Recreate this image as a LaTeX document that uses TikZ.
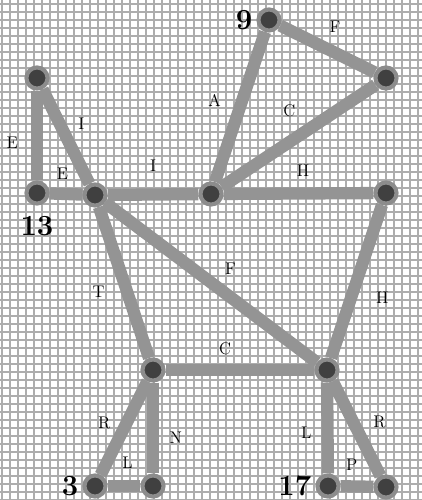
\documentclass[tikz,border=0pt]{standalone}
\usetikzlibrary{backgrounds}
\begin{document}
\begin{tikzpicture}[x=0.03cm, y=-0.03cm]
  \tikzstyle{o} = [circle, fill=black!75, draw=black!45, line width=3.5pt,
  inner sep=0pt, minimum size=18pt];
  \tikzstyle{a} = [line width=10.5pt, color=black!42];
  \tikzstyle{lbl} = [font=\Large, text=black, inner sep=0pt];
  \tikzstyle{num} = [font=\Huge\bfseries];
  \tikzstyle{gridline} = [line width=0.9pt, color=black!32];

  \useasboundingbox (0,0) rectangle (422,500);

  \node[o, label={[num]left:9}] (n9) at (269,20) {};
  \node[o] (tr) at (386,78) {};
  \node[o] (tl) at (37,78) {};
  \node[o, label={[num, label distance=6pt]below:13}] (n13) at (37,193) {};
  \node[o] (a) at (95,195) {};
  \node[o] (b) at (211,194) {};
  \node[o] (c) at (386,193) {};

  \node[o] (d) at (153,370) {};
  \node[o] (e) at (327,370) {};

  \node[o, label={[num]left:3}] (n3) at (95,486) {};
  \node[o] (f) at (153,486) {};
  \node[o, label={[num]left:17}] (n17) at (328,486) {};
  \node[o] (g) at (386,487) {};

  \begin{scope}[on background layer]
    % graph paper
    \foreach \g in {2,10,...,422}
      \draw[gridline] (\g,0) -- (\g,500);
    \foreach \g in {4,12,...,500}
      \draw[gridline] (0,\g) -- (422,\g);

    \draw[a] (n9) -- node[lbl, pos=.58, above=12pt] {F} (tr);
    \draw[a] (n9) -- node[lbl, pos=.455, left=13pt] {A} (b);
    \draw[a] (tr) -- node[lbl, pos=.56, above=16pt] {C} (b);

    \draw[a] (tl) -- node[lbl, pos=.58, left=11pt] {E} (n13);
    \draw[a] (tl) -- node[lbl, pos=.36, right=11pt] {I} (a);
    \draw[a] (n13) -- node[lbl, pos=.39, above=7pt] {E} (a);
    \draw[a] (a) -- node[lbl, pos=.5, above=14pt] {I} (b);
    \draw[a] (b) -- node[lbl, pos=.53, above=9pt] {H} (c);

    \draw[a] (a) -- node[lbl, pos=.56, left=14pt] {T} (d);
    \draw[a] (a) -- node[lbl, pos=.515, above right=4pt] {F} (e);
    \draw[a] (c) -- node[lbl, pos=.605, right=16pt] {H} (e);
    \draw[a] (d) -- node[lbl, pos=.4, above=8pt] {C} (e);

    \draw[a] (d) -- node[lbl, pos=.45, left=8.5pt] {R} (n3);
    \draw[a] (d) -- node[lbl, pos=.61, right=9pt] {N} (f);
    \draw[a] (n3) -- node[lbl, pos=.61, above=9.5pt] {L} (f);
    \draw[a] (e) -- node[lbl, pos=.55, left=8.5pt] {L} (n17);
    \draw[a] (e) -- node[lbl, pos=.43, right=12pt] {R} (g);
    \draw[a] (n17) -- node[lbl, pos=.34, above=8.5pt] {P} (g);
  \end{scope}
\end{tikzpicture}
\end{document}
